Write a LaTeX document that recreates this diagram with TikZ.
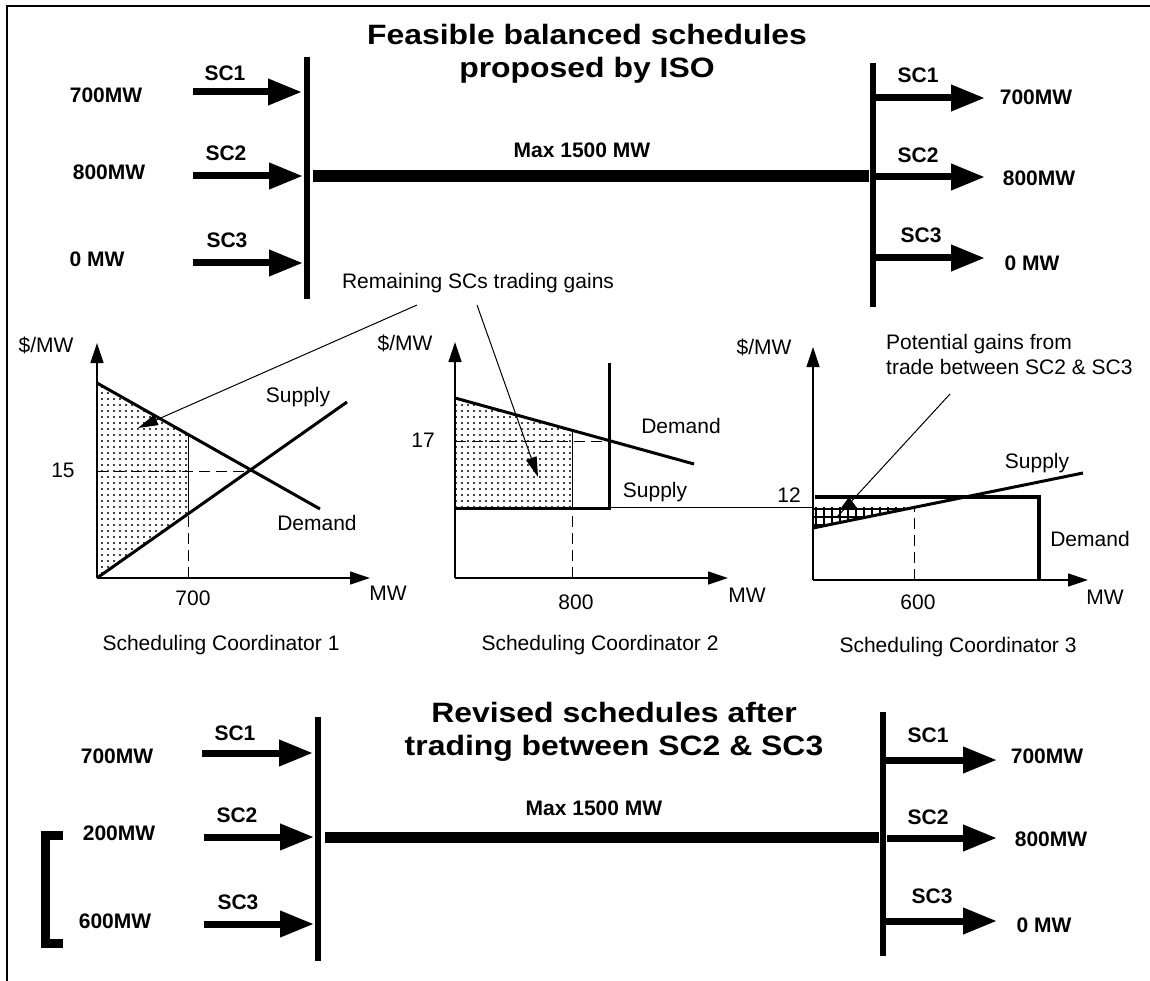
\documentclass[tikz,border=0pt]{standalone}
\usepackage{fontspec}
\usepackage{graphicx}
\setmainfont{Liberation Sans}
\usetikzlibrary{arrows.meta,patterns.meta}
\newcommand{\ttlstretch}[1]{\scalebox{1.14}[1]{#1}}
\begin{document}
\begin{tikzpicture}[x=1pt,y=-1pt,
  lbl/.style={inner sep=0pt, font=\fontsize{21}{25}\selectfont\bfseries},
  txt/.style={inner sep=0pt, font=\fontsize{21}{25}\selectfont},
  ttl/.style={inner sep=0pt, anchor=base, font=\fontsize{28}{33}\selectfont\bfseries},
  bus/.style={line width=6pt},
  feeder/.style={line width=12pt},
  flow/.style={line width=7pt, -{Triangle[length=34pt,width=25pt]}},
  axis/.style={line width=1.3pt, -{Triangle[length=20pt,width=13pt]}},
  curve/.style={line width=3pt},
  guide/.style={line width=1pt, dash pattern=on 11pt off 6pt},
  thinline/.style={line width=1pt},
  callout/.style={line width=1pt, -{Triangle[length=20pt,width=11pt]}},
  dotfill/.style={pattern={Dots[distance=6pt,radius=1.15pt]}},
  gridfill/.style={pattern={Hatch[angle=0,distance=8pt,line width=2pt]}},
]
\useasboundingbox (0,0) rectangle (1150,981);
% frame
\draw[line width=2pt] (7,981) -- (7,6) -- (1150,6);

% ================= TOP SECTION =================
\node[ttl] (ttlA1) at (587,45) {\ttlstretch{Feasible balanced schedules}};
\node[ttl] (ttlA2) at (587,78) {\ttlstretch{proposed by ISO}};

\coordinate (busL1t) at (307,57);  \coordinate (busL1b) at (307,299);
\coordinate (busR1t) at (873,63);  \coordinate (busR1b) at (873,307);
\draw[bus] (busL1t) -- (busL1b);
\draw[bus] (busR1t) -- (busR1b);
\coordinate (fdA1) at (313,176); \coordinate (fdA2) at (869,176);
\draw[feeder] (fdA1) -- (fdA2);
\node[lbl] (maxA) at (582,150) {Max 1500 MW};

% inputs
\coordinate (inA1s) at (193,92);  \coordinate (inA1e) at (302,92);
\coordinate (inA2s) at (193,176); \coordinate (inA2e) at (303,176);
\coordinate (inA3s) at (193,263); \coordinate (inA3e) at (303,263);
\draw[flow] (inA1s) -- (inA1e);
\draw[flow] (inA2s) -- (inA2e);
\draw[flow] (inA3s) -- (inA3e);
\node[lbl] (scA1) at (225,73) {SC1};
\node[lbl] (scA2) at (226,153) {SC2};
\node[lbl] (scA3) at (227,240) {SC3};
\node[lbl] (vA1) at (106,95) {700MW};
\node[lbl] (vA2) at (109,172) {800MW};
\node[lbl] (vA3) at (97,259) {0 MW};

% outputs
\coordinate (outA1s) at (873,98);  \coordinate (outA1e) at (985,98);
\coordinate (outA2s) at (873,177); \coordinate (outA2e) at (985,177);
\coordinate (outA3s) at (873,258); \coordinate (outA3e) at (985,258);
\draw[flow] (outA1s) -- (outA1e);
\draw[flow] (outA2s) -- (outA2e);
\draw[flow] (outA3s) -- (outA3e);
\node[lbl] (scB1) at (918,75) {SC1};
\node[lbl] (scB2) at (918,155) {SC2};
\node[lbl] (scB3) at (921,235) {SC3};
\node[lbl] (wA1) at (1036,97) {700MW};
\node[lbl] (wA2) at (1039,178) {800MW};
\node[lbl] (wA3) at (1032,263) {0 MW};

% ================= CHARTS =================
\node[txt] (remain) at (478,283) {Remaining SCs trading gains};

% ---- chart 1
\fill[dotfill] (97,383) -- (188,435) -- (188,514) -- (97,578) -- cycle;
\draw[guide] (97,471) -- (252,471);
\draw[guide] (188,578) -- (188,514);
\draw[thinline] (188,514) -- (188,435);
\draw[curve] (97,383) -- (320,509);
\draw[curve] (97,578) -- (347,402);
\coordinate (o1) at (97,578);
\coordinate (y1) at (97,343);
\coordinate (x1) at (370,578);
\draw[axis] (o1) -- (y1);
\draw[axis] (o1) -- (x1);
\node[txt] (pm1) at (46,345) {\$/MW};
\node[txt] (p15) at (63,470) {15};
\node[txt] (q700) at (193,598) {700};
\node[txt] (mw1) at (388,593) {MW};
\node[txt] (sup1) at (298,397) {Supply};
\node[txt] (dem1) at (317,523) {Demand};
\node[txt] (cap1) at (221,645) {Scheduling Coordinator 1};
\coordinate (tip1) at (138,428);
\coordinate (tip2) at (538,477);
\draw[callout] (417,305) -- (tip1);
\draw[callout] (477,305) -- (tip2);

% ---- chart 2
\fill[dotfill] (455,398) -- (572,430) -- (572,508) -- (455,508) -- cycle;
\draw[guide] (455,441) -- (609,441);
\draw[guide] (572,578) -- (572,508);
\draw[thinline] (572,508) -- (572,430);
\draw[curve] (455,398) -- (694,464);
\draw[curve, line join=miter] (455,508) -- (609,508) -- (609,363);
\draw[thinline] (609,507) -- (914,507);
\coordinate (o2) at (455,578);
\coordinate (y2) at (455,342);
\coordinate (x2) at (728,578);
\draw[axis] (o2) -- (y2);
\draw[axis] (o2) -- (x2);
\node[txt] (pm2) at (405,343) {\$/MW};
\node[txt] (p17) at (423,440) {17};
\node[txt] (q800) at (576,602) {800};
\node[txt] (mw2) at (747,595) {MW};
\node[txt] (dem2) at (681,426) {Demand};
\node[txt] (sup2) at (655,492) {Supply};
\node[txt] (cap2) at (600,645) {Scheduling Coordinator 2};

% ---- chart 3
\fill[white] (813,507) -- (914,507) -- (813,528) -- cycle;
\fill[gridfill] (813,507) -- (914,507) -- (813,528) -- cycle;
\draw[guide] (914,580) -- (914,507);
\draw[curve] (813,528) -- (1083,473);
\draw[line width=4pt, line join=miter] (815,497) -- (1039,497) -- (1039,580);
\coordinate (o3) at (813,580);
\coordinate (y3) at (813,347);
\coordinate (x3) at (1088,580);
\draw[axis] (o3) -- (y3);
\draw[axis] (o3) -- (x3);
\node[txt] (pm3) at (764,347) {\$/MW};
\node[txt] (p12) at (789,495) {12};
\node[txt] (q600) at (918,602) {600};
\node[txt] (mw3) at (1105,597) {MW};
\node[txt] (sup3) at (1037,463) {Supply};
\node[txt] (dem3) at (1090,539) {Demand};
\node[txt] (cap3) at (958,647) {Scheduling Coordinator 3};
\node[txt, anchor=west, align=left] (pot) at (886,354) {Potential gains from\\trade between SC2 \& SC3};
\coordinate (potS) at (950,394);
\coordinate (potE) at (837,517);
\draw[thinline] (potS) -- (potE);
\fill (849,497) -- (857,508) -- (841,508) -- cycle;

% ================= BOTTOM SECTION =================
\node[ttl] (ttlB1) at (614,722) {\ttlstretch{Revised schedules after}};
\node[ttl] (ttlB2) at (614,755) {\ttlstretch{trading between SC2 \& SC3}};

\coordinate (busL2t) at (318,717); \coordinate (busL2b) at (318,961);
\coordinate (busR2t) at (883,712); \coordinate (busR2b) at (883,956);
\draw[bus] (busL2t) -- (busL2b);
\draw[bus] (busR2t) -- (busR2b);
\coordinate (fdB1) at (325,837); \coordinate (fdB2) at (879,837);
\draw[line width=11pt] (fdB1) -- (fdB2);
\node[lbl] (maxB) at (594,808) {Max 1500 MW};

\coordinate (inB1s) at (202,753); \coordinate (inB1e) at (313,753);
\coordinate (inB2s) at (204,837); \coordinate (inB2e) at (314,837);
\coordinate (inB3s) at (204,924); \coordinate (inB3e) at (314,924);
\draw[flow] (inB1s) -- (inB1e);
\draw[flow] (inB2s) -- (inB2e);
\draw[flow] (inB3s) -- (inB3e);
\node[lbl] (scC1) at (235,733) {SC1};
\node[lbl] (scC2) at (237,815) {SC2};
\node[lbl] (scC3) at (238,902) {SC3};
\node[lbl] (vB1) at (117,756) {700MW};
\node[lbl] (vB2) at (119,833) {200MW};
\node[lbl] (vB3) at (115,921) {600MW};
\draw[line width=9pt, line join=miter] (63,835.5) -- (45.5,835.5) -- (45.5,943.5) -- (63,943.5);

\coordinate (outB1s) at (883,760); \coordinate (outB1e) at (997,760);
\coordinate (outB2s) at (887,838); \coordinate (outB2e) at (997,838);
\coordinate (outB3s) at (883,921); \coordinate (outB3e) at (997,921);
\draw[flow] (outB1s) -- (outB1e);
\draw[flow] (outB2s) -- (outB2e);
\draw[flow] (outB3s) -- (outB3e);
\node[lbl] (scD1) at (928,735) {SC1};
\node[lbl] (scD2) at (928,817) {SC2};
\node[lbl] (scD3) at (932,896) {SC3};
\node[lbl] (wB1) at (1047,756) {700MW};
\node[lbl] (wB2) at (1051,839) {800MW};
\node[lbl] (wB3) at (1044,925) {0 MW};
\end{tikzpicture}
\end{document}
